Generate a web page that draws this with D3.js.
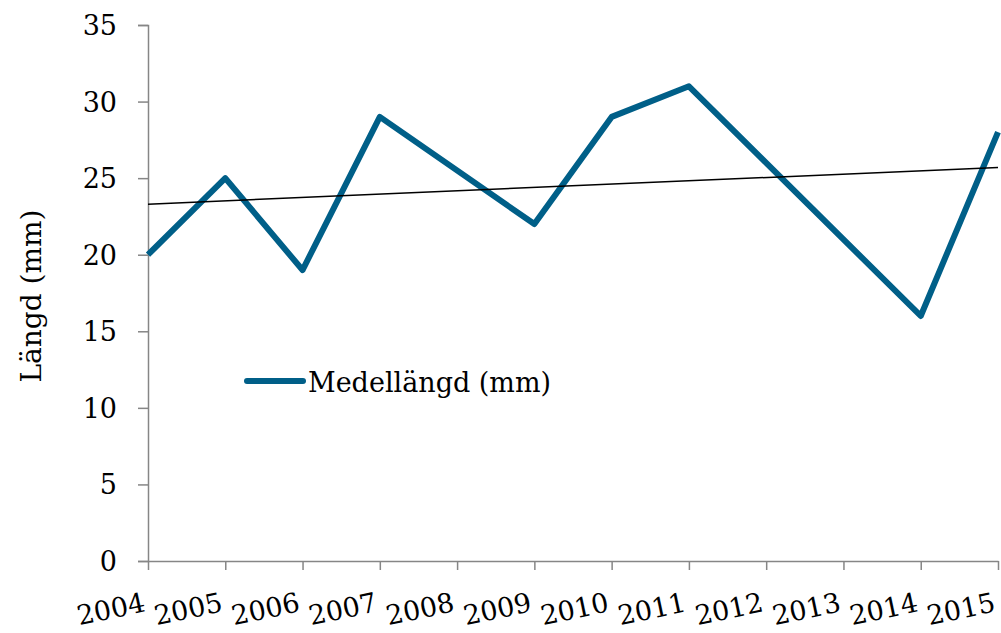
<!DOCTYPE html>
<html>
<head>
<meta charset="utf-8">
<script src="https://cdn.jsdelivr.net/npm/d3@7"></script>
<style>
  body { margin: 0; background: #fff; }
  svg { display: block; }
  text { font-family: "DejaVu Serif", serif; fill: #000; }
</style>
</head>
<body>
<div id="chart"></div>
<script>
const width = 1001;
const height = 633;

// data (no values for 2008, 2012, 2013)
const years = ["2004", "2005", "2006", "2007", "2008", "2009", "2010", "2011", "2012", "2013", "2014", "2015"];
const lengths = [20, 25, 19, 29, null, 22, 29, 31, null, null, 16, 28];
const trendYears = ["2004", "2015"];
const trendValues = [23.3, 25.7];
const yTicks = [0, 5, 10, 15, 20, 25, 30, 35];
const seriesName = "Medellängd (mm)";
const yTitle = "Längd (mm)";

const margin = {left: 148, right: 3, top: 25, bottom: 72};

const x = d3.scalePoint()
    .domain(years)
    .range([margin.left, width - margin.right]);

const y = d3.scaleLinear()
    .domain([0, 35])
    .range([height - margin.bottom, margin.top]);

const svg = d3.select("#chart").append("svg")
    .attr("width", width)
    .attr("height", height);

// y axis
const yAxis = svg.append("g")
    .attr("transform", `translate(${margin.left},0)`)
    .call(d3.axisLeft(y).tickValues(yTicks).tickSize(10).tickPadding(21));
yAxis.select(".domain").attr("stroke", "#868686").attr("stroke-width", 1.5);
yAxis.selectAll(".tick line").attr("stroke", "#868686").attr("stroke-width", 1.5);
yAxis.selectAll(".tick text")
    .attr("font-size", 27)
    .attr("font-family", "DejaVu Serif")
    .attr("dy", "0.35em");

// x axis
const xAxis = svg.append("g")
    .attr("transform", `translate(0,${y(0)})`)
    .call(d3.axisBottom(x).tickSize(9).tickSizeOuter(0));
xAxis.select(".domain").attr("stroke", "#868686").attr("stroke-width", 1.5);
xAxis.selectAll(".tick line").attr("stroke", "#868686").attr("stroke-width", 1.5);
xAxis.selectAll(".tick text")
    .attr("font-size", 27)
    .attr("font-family", "DejaVu Serif")
    .attr("text-anchor", "end")
    .attr("y", 0)
    .attr("dy", 0)
    .attr("transform", "translate(-2,50) rotate(-12)");

// y title
svg.append("text")
    .attr("transform", `translate(41,${(y(0) + y(35)) / 2 + 3}) rotate(-90)`)
    .attr("text-anchor", "middle")
    .attr("font-size", 28)
    .text(yTitle);

// data line, gaps bridged
const points = years.map((d, i) => ({year: d, value: lengths[i]}))
    .filter(d => d.value != null);

const line = d3.line()
    .x(d => x(d.year))
    .y(d => y(d.value));

svg.append("path")
    .datum(points)
    .attr("fill", "none")
    .attr("stroke", "#005f88")
    .attr("stroke-width", 6)
    .attr("stroke-linejoin", "round")
    .attr("d", line);

// linear trend line
const trend = trendYears.map((d, i) => ({year: d, value: trendValues[i]}));
svg.append("path")
    .datum(trend)
    .attr("fill", "none")
    .attr("stroke", "#000")
    .attr("stroke-width", 1.5)
    .attr("d", line);

// legend
const legend = svg.append("g").attr("transform", "translate(247,381)");
legend.append("line")
    .attr("x1", 0).attr("x2", 56)
    .attr("stroke", "#005f88")
    .attr("stroke-width", 6)
    .attr("stroke-linecap", "round");
legend.append("text")
    .attr("x", 61)
    .attr("y", 11)
    .attr("font-size", 27)
    .text(seriesName);
</script>
</body>
</html>
